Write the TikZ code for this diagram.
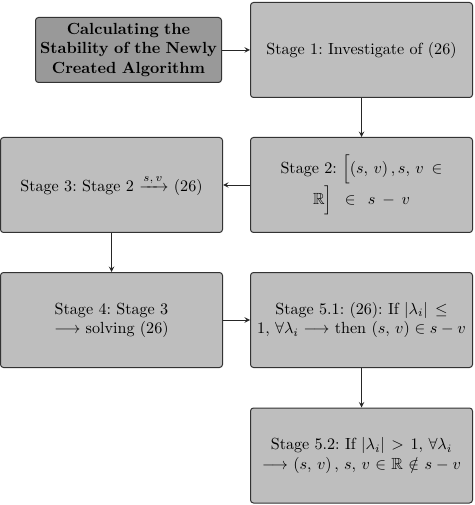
\documentclass[tikz,border=0pt]{standalone}
\usepackage{amsmath,amssymb}
\frenchspacing
\newlength{\du}
\setlength{\du}{0.621pt}
\definecolor{stagecolor}{rgb}{0.745000, 0.745000, 0.745000}
\definecolor{titlecolor}{rgb}{0.600000, 0.600000, 0.600000}
\tikzset{
  stagebox/.style={draw=black!80, fill=stagecolor, rounded corners=3\du, line width=1\du, minimum width=222\du, minimum height=95\du, text width=212\du, align=center, inner sep=0pt},
  titlebox/.style={stagebox, fill=titlecolor, minimum width=186\du, minimum height=65\du, text width=182\du, font=\bfseries},
  flowline/.style={-stealth, line width=0.8\du, draw=black!85}
}
\begin{document}
\begin{tikzpicture}
\pgftransformxscale{1.000000}
\pgftransformyscale{-1.000000}
\useasboundingbox (0\du,0\du) rectangle (474\du,505\du);
% boxes
\node[titlebox] (calc) at (128.500000\du,50.000000\du){Calculating the\\ Stability of the Newly\\ Created Algorithm};
\node[stagebox] (stageone) at (361.500000\du,50.000000\du){Stage 1: Investigate of (26)};
\node[stagebox] (stagetwo) at (361.500000\du,185.000000\du){Stage 2: $\Big[(s,\,v)\,, s,\,v \in$\\ $\mathbb{R}\Big] \in s - v$};
\node[stagebox] (stagethree) at (111.500000\du,185.000000\du){Stage 3: Stage 2 $\xrightarrow{s,\,v}$ (26)};
\node[stagebox] (stagefour) at (111.500000\du,320.000000\du){Stage 4: Stage 3\\ $\longrightarrow$ solving (26)};
\node[stagebox] (stagefiveone) at (361.500000\du,320.000000\du){Stage 5.1: (26): If $|\lambda_i| \le$\\ $1,\,\forall\lambda_i \longrightarrow$ then $(s,\,v) \in s-v$};
\node[stagebox] (stagefivetwo) at (361.500000\du,455.500000\du){Stage 5.2: If $|\lambda_i| > 1,\,\forall\lambda_i$\\ $\longrightarrow (s,\,v)\,,\, s,\,v \in \mathbb{R} \notin s-v$};
% connectors
\draw[flowline] (calc.east)--(stageone.west);
\draw[flowline] (stageone.south)--(stagetwo.north);
\draw[flowline] (stagetwo.west)--(stagethree.east);
\draw[flowline] (stagethree.south)--(stagefour.north);
\draw[flowline] (stagefour.east)--(stagefiveone.west);
\draw[flowline] (stagefiveone.south)--(stagefivetwo.north);
\end{tikzpicture}
\end{document}
